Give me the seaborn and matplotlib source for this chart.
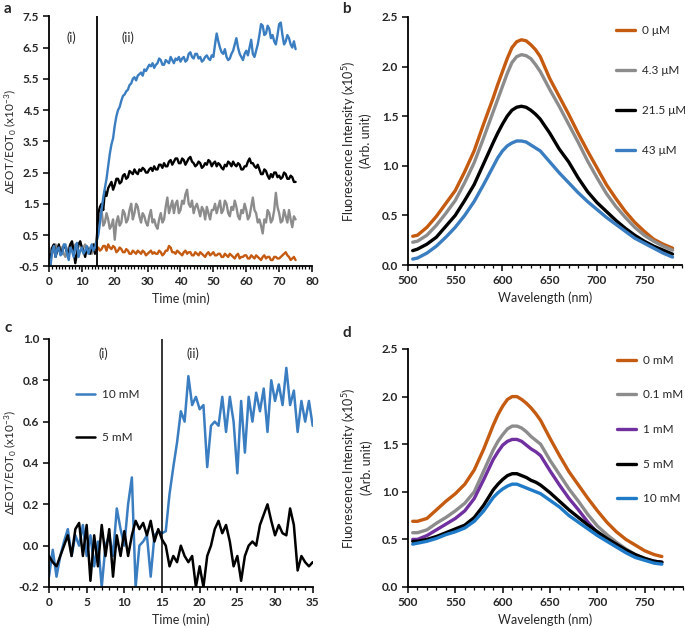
import numpy as np
import pandas as pd
import matplotlib
matplotlib.use("Agg")
import matplotlib.pyplot as plt
from matplotlib.ticker import MultipleLocator
import seaborn as sns

# --- panel a: EOT change over time (x10^-3), sampled every 0.5 min ---
t_a = np.arange(0, 75.01, 0.5)
a_blue = [-0.3, -0.45, 0.0, 0.15, -0.2, 0.05, 0.1, -0.15, -0.1, 0.2,
          0.2, -0.1, -0.3, 0.1, 0.0, -0.2, 0.1, 0.25, -0.2, 0.0,
          0.1, -0.1, 0.0, 0.15, -0.1, 0.05, 0.2, 0.0, 0.1, 0.3,
          0.5, 0.9, 1.3, 1.7, 2.0, 2.3, 2.7, 3.1, 3.4, 3.6,
          4.0, 4.3, 4.5, 4.6, 4.8, 4.95, 5.0, 5.1, 5.15, 5.3,
          5.35, 5.5, 5.55, 5.45, 5.6, 5.65, 5.7, 5.6, 5.8, 5.75,
          5.85, 5.95, 5.9, 6.0, 5.85, 5.95, 6.0, 6.15, 6.1, 5.95,
          5.95, 6.1, 6.05, 6.0, 6.2, 6.1, 6.0, 6.15, 6.1, 6.2,
          6.05, 6.15, 6.2, 6.05, 6.1, 6.3, 6.35, 6.2, 6.15, 6.3,
          6.3, 6.15, 6.2, 6.05, 6.1, 6.2, 6.25, 6.15, 6.1, 6.25,
          6.2, 6.6, 6.95, 6.7, 6.5, 6.35, 6.3, 6.45, 6.2, 6.1,
          6.15, 6.3, 6.4, 6.6, 6.8, 6.5, 6.3, 6.2, 6.1, 6.3,
          6.4, 6.25, 6.5, 6.75, 6.3, 6.2, 6.4, 6.6, 6.9, 7.25,
          7.2, 6.9, 6.95, 7.2, 7.1, 6.8, 6.9, 6.7, 6.6, 6.9,
          7.25, 7.3, 6.9, 6.6, 6.7, 6.9, 6.8, 6.6, 6.5, 6.7,
          6.45]
a_black = [-0.1, -0.3, 0.1, 0.2, -0.2, 0.0, 0.2, -0.1, 0.0, 0.15,
           0.1, -0.05, -0.1, 0.2, 0.3, 0.0, -0.4, -0.1, 0.2, 0.3,
           0.1, 0.0, -0.2, 0.1, 0.0, -0.1, 0.1, 0.2, -0.1, 0.3,
           1.2, 1.4, 1.5, 1.3, 1.9, 1.75, 2.0, 2.1, 2.2, 1.95,
           2.1, 2.3, 2.3, 2.15, 2.2, 2.4, 2.45, 2.3, 2.35, 2.55,
           2.5, 2.45, 2.6, 2.5, 2.45, 2.6, 2.55, 2.65, 2.6, 2.5,
           2.5, 2.6, 2.65, 2.55, 2.7, 2.6, 2.6, 2.75, 2.75, 2.65,
           2.8, 2.7, 2.7, 2.85, 2.9, 2.75, 2.85, 2.95, 2.95, 2.8,
           2.8, 2.95, 2.9, 2.75, 2.85, 2.95, 3.0, 2.85, 2.8, 2.7,
           2.75, 2.85, 2.8, 2.65, 2.7, 2.8, 2.75, 2.9, 2.85, 2.7,
           2.8, 2.85, 2.7, 2.8, 2.75, 2.65, 2.6, 2.75, 2.7, 2.85,
           2.8, 2.7, 2.85, 2.75, 2.7, 2.8, 2.75, 2.6, 2.6, 2.7,
           2.7, 2.85, 2.95, 2.8, 2.8, 2.7, 2.65, 2.75, 2.6, 2.45,
           2.45, 2.6, 2.55, 2.4, 2.3, 2.45, 2.35, 2.5, 2.5, 2.35,
           2.4, 2.3, 2.35, 2.5, 2.45, 2.3, 2.3, 2.4, 2.35, 2.2,
           2.2]
a_gray = [0.1, 0.0, -0.1, 0.1, 0.2, 0.0, 0.0, 0.1, 0.1, -0.1,
          -0.2, 0.0, 0.1, 0.2, 0.0, -0.1, 0.2, 0.1, -0.1, 0.0,
          0.0, 0.1, 0.2, 0.0, 0.1, 0.0, -0.1, 0.1, 0.2, 0.3,
          0.8, 1.1, 1.3, 0.8, 0.9, 1.2, 1.0, 0.7, 0.8, 1.0,
          0.35, 0.9, 1.1, 0.8, 0.9, 1.3, 1.2, 0.9, 1.0, 1.3,
          1.5, 1.0, 1.2, 1.5, 1.4, 1.1, 0.9, 1.2, 1.1, 0.9,
          0.8, 1.1, 1.3, 0.9, 1.0, 0.8, 0.7, 1.0, 1.2, 0.9,
          1.0, 1.4, 1.7, 1.2, 1.4, 1.6, 1.2, 1.5, 1.6, 1.2,
          1.3, 1.6, 1.5, 1.8, 1.95, 1.5, 1.4, 1.6, 1.2, 1.4,
          1.5, 1.3, 1.1, 1.4, 1.3, 1.0, 1.4, 1.2, 1.0, 1.3,
          1.3, 1.5, 1.2, 1.4, 1.6, 1.2, 1.3, 1.6, 1.5, 1.2,
          1.1, 1.4, 1.3, 1.6, 1.4, 1.1, 1.0, 1.3, 1.2, 1.5,
          1.3, 1.0, 1.1, 1.4, 1.7, 1.3, 1.2, 0.9, 1.0, 0.8,
          0.55, 1.0, 0.9, 1.3, 1.2, 0.9, 1.0, 1.3, 1.85, 1.4,
          1.2, 0.9, 0.95, 1.3, 1.1, 0.9, 1.3, 1.0, 0.75, 1.1,
          1.0]
t_a_orange = np.arange(14.5, 75.01, 0.5)
a_orange = [0.0, 0.1, 0.0, 0.05, 0.15, 0.15, 0.0, 0.2, 0.1, 0.05,
            0.15, 0.1, -0.05, 0.0, 0.1, 0.05, -0.05, -0.05, 0.05, 0.0,
            -0.1, -0.1, 0.0, -0.05, -0.1, 0.0, -0.05, -0.1, 0.0, -0.05,
            -0.15, -0.1, -0.05, 0.0, -0.1, -0.05, -0.1, -0.1, 0.0, -0.05,
            -0.15, -0.1, 0.0, 0.0, 0.15, 0.1, -0.05, -0.05, -0.1, 0.0,
            -0.05, -0.1, -0.15, -0.05, 0.0, -0.1, -0.05, -0.05, -0.15, -0.15,
            -0.05, -0.1, -0.15, -0.05, -0.1, -0.15, -0.2, -0.1, -0.05, -0.15,
            -0.1, -0.05, -0.15, -0.15, -0.1, -0.1, -0.2, -0.2, -0.1, -0.15,
            -0.2, -0.1, -0.15, -0.2, -0.25, -0.15, -0.1, -0.25, -0.2, -0.2,
            -0.15, -0.15, -0.25, -0.25, -0.15, -0.2, -0.25, -0.15, -0.2, -0.25,
            -0.3, -0.2, -0.15, -0.25, -0.2, -0.2, -0.3, -0.3, -0.2, -0.2,
            -0.25, -0.25, -0.2, -0.15, -0.1, -0.05, -0.15, -0.2, -0.3, -0.25,
            -0.2, -0.3]

# --- panel b: emission spectra (x10^5) ---
wl_b = [505, 510, 520, 530, 540, 550, 560, 570, 580, 590, 595, 600, 605, 610, 615, 620, 625, 630, 635, 640,
        650, 660, 670, 680, 690, 700, 710, 720, 730, 740, 750, 760, 770, 780]
b_0uM = [0.29, 0.30, 0.38, 0.49, 0.62, 0.75, 0.94, 1.15, 1.42, 1.68, 1.82, 1.95, 2.08, 2.19, 2.25, 2.27,
         2.26, 2.22, 2.17, 2.10, 1.88, 1.70, 1.52, 1.33, 1.15, 0.98, 0.81, 0.67, 0.54, 0.43, 0.34, 0.26, 0.21, 0.17]
b_4uM = [0.23, 0.24, 0.30, 0.40, 0.52, 0.65, 0.83, 1.03, 1.28, 1.54, 1.67, 1.80, 1.93, 2.04, 2.10, 2.12,
         2.11, 2.08, 2.02, 1.95, 1.77, 1.60, 1.42, 1.24, 1.05, 0.88, 0.72, 0.59, 0.48, 0.38, 0.30, 0.24, 0.19, 0.15]
b_21uM = [0.145, 0.16, 0.21, 0.28, 0.39, 0.50, 0.65, 0.81, 1.02, 1.23, 1.33, 1.42, 1.50, 1.56, 1.59, 1.60,
          1.59, 1.56, 1.52, 1.47, 1.33, 1.17, 1.04, 0.88, 0.74, 0.63, 0.54, 0.45, 0.37, 0.30, 0.24, 0.19, 0.15, 0.11]
b_43uM = [0.06, 0.07, 0.12, 0.19, 0.28, 0.38, 0.50, 0.64, 0.81, 0.99, 1.08, 1.15, 1.20, 1.23, 1.25, 1.25,
          1.24, 1.21, 1.18, 1.15, 1.04, 0.93, 0.83, 0.73, 0.64, 0.56, 0.48, 0.41, 0.34, 0.27, 0.22, 0.17, 0.12, 0.08]
b_labels = ["0 μM", "4.3 μM", "21.5 μM", "43 μM"]

# --- panel c: EOT change over time (x10^-3) ---
t_c = np.arange(0, 35.01, 0.5)
c_10mM = [-0.15, -0.02, -0.15, -0.05, 0.02, 0.08, -0.05, 0.05, 0.0, 0.1, -0.05, 0.05, -0.1, 0.02,
          -0.2, 0.0, 0.05, -0.05, 0.18, 0.08, 0.0, 0.2, 0.33, -0.2, 0.0, 0.02, 0.05, -0.15, 0.05,
          0.07, 0.06, 0.07, 0.25, 0.38, 0.5, 0.65, 0.6, 0.82, 0.68, 0.72, 0.66, 0.68, 0.38, 0.58,
          0.6, 0.58, 0.72, 0.55, 0.72, 0.6, 0.35, 0.7, 0.45, 0.72, 0.6, 0.74, 0.65, 0.76, 0.55,
          0.8, 0.7, 0.78, 0.68, 0.86, 0.68, 0.75, 0.55, 0.7, 0.6, 0.7, 0.58]
c_5mM = [-0.05, -0.08, -0.1, -0.05, 0.0, 0.05, -0.05, 0.08, 0.11, -0.05, 0.1, -0.17, 0.05, -0.1,
         0.1, -0.05, 0.08, -0.15, 0.05, -0.05, 0.07, -0.05, 0.05, 0.12, 0.08, 0.11, 0.05, 0.12,
         0.02, 0.08, 0.03, 0.0, -0.1, -0.05, -0.08, 0.0, -0.05, -0.08, -0.05, -0.2, -0.1, -0.2,
         -0.05, 0.0, 0.08, 0.12, 0.06, 0.1, 0.02, -0.1, -0.05, -0.17, -0.05, 0.0, 0.02, 0.0, 0.1,
         0.15, 0.2, 0.12, 0.05, 0.1, 0.06, 0.05, 0.18, 0.1, -0.12, -0.05, -0.08, -0.1, -0.08]

# --- panel d: emission spectra (x10^5) ---
wl_d = [505, 510, 520, 530, 540, 550, 560, 570, 580, 590, 595, 600, 605, 610, 615, 620, 625, 630, 635, 640,
        650, 660, 670, 680, 690, 700, 710, 720, 730, 740, 750, 760, 768]
d_0mM = [0.69, 0.69, 0.72, 0.81, 0.90, 0.98, 1.08, 1.23, 1.45, 1.70, 1.81, 1.90, 1.97, 2.00, 2.00, 1.97,
         1.93, 1.88, 1.82, 1.75, 1.56, 1.38, 1.21, 1.07, 0.93, 0.80, 0.68, 0.58, 0.50, 0.44, 0.38, 0.34, 0.32]
d_01mM = [0.57, 0.57, 0.60, 0.67, 0.73, 0.80, 0.88, 1.00, 1.22, 1.44, 1.53, 1.60, 1.66, 1.69, 1.69, 1.67,
          1.63, 1.58, 1.54, 1.50, 1.33, 1.18, 1.03, 0.90, 0.76, 0.64, 0.55, 0.47, 0.40, 0.34, 0.30, 0.27, 0.26]
d_1mM = [0.50, 0.50, 0.54, 0.60, 0.66, 0.72, 0.80, 0.93, 1.13, 1.34, 1.42, 1.49, 1.53, 1.55, 1.55, 1.53,
         1.49, 1.45, 1.42, 1.38, 1.22, 1.07, 0.93, 0.81, 0.68, 0.57, 0.50, 0.43, 0.37, 0.32, 0.29, 0.27, 0.26]
d_5mM = [0.48, 0.48, 0.50, 0.53, 0.57, 0.61, 0.65, 0.73, 0.86, 1.02, 1.08, 1.13, 1.17, 1.19, 1.19, 1.17,
         1.15, 1.12, 1.10, 1.07, 0.99, 0.90, 0.81, 0.73, 0.65, 0.58, 0.51, 0.45, 0.39, 0.34, 0.30, 0.27, 0.26]
d_10mM = [0.45, 0.46, 0.48, 0.51, 0.55, 0.58, 0.62, 0.69, 0.80, 0.94, 0.99, 1.03, 1.06, 1.08, 1.08, 1.06,
          1.04, 1.02, 1.00, 0.98, 0.91, 0.84, 0.75, 0.68, 0.61, 0.54, 0.48, 0.42, 0.36, 0.31, 0.28, 0.25, 0.24]
d_labels = ["0 mM", "0.1 mM", "1 mM", "5 mM", "10 mM"]

ORANGE, GRAY, BLACK, BLUE, PURPLE = "#C55A11", "#8C8C8C", "#000000", "#3A7DC1", "#7030A0"

sns.set_style("ticks")
plt.rcParams["font.family"] = ["Lato", "DejaVu Sans"]
plt.rcParams["mathtext.fontset"] = "custom"
plt.rcParams["mathtext.rm"] = "Lato"
plt.rcParams["mathtext.it"] = "Lato:italic"

fig = plt.figure(figsize=(6.85, 6.28), dpi=100)
ax_a = fig.add_axes([0.0715, 0.576, 0.384, 0.398])
ax_b = fig.add_axes([0.5956, 0.578, 0.400, 0.395])
ax_c = fig.add_axes([0.0715, 0.0653, 0.385, 0.395])
ax_d = fig.add_axes([0.5956, 0.0653, 0.401, 0.379])


def style(ax, xticks, xminor, yticks, xfmt, yfmt, ylab_x):
    sns.despine(ax=ax)
    for s in ("left", "bottom"):
        ax.spines[s].set_color("black")
        ax.spines[s].set_linewidth(1.3)
    ax.set_xticks(xticks, [xfmt.format(v) for v in xticks], fontweight="bold", fontsize=8.5)
    ax.set_yticks(yticks, [yfmt.format(v) for v in yticks], fontweight="bold", fontsize=8.5)
    ax.xaxis.set_minor_locator(MultipleLocator(xminor))
    ax.tick_params(axis="both", which="major", direction="out", length=4, width=1.1,
                   color="black", pad=3)
    ax.tick_params(axis="x", which="minor", direction="out", length=2.5, width=0.9, color="black")
    ax.yaxis.set_label_coords(ylab_x, 0.5)
    ax.grid(False)


leg_kw = dict(loc="upper left", frameon=False, fontsize=8.5, handlelength=1.6,
              handletextpad=0.6, borderpad=0)

# panel a
df_a = pd.concat([
    pd.DataFrame({"t": t_a, "v": a_gray, "s": "gray"}),
    pd.DataFrame({"t": t_a, "v": a_black, "s": "black"}),
    pd.DataFrame({"t": t_a, "v": a_blue, "s": "blue"}),
    pd.DataFrame({"t": t_a_orange, "v": a_orange, "s": "orange"}),
])
sns.lineplot(data=df_a, x="t", y="v", hue="s", estimator=None, sort=False, ax=ax_a,
             palette={"gray": GRAY, "black": BLACK, "blue": BLUE, "orange": ORANGE},
             linewidth=1.7, legend=False)
ax_a.set_xlim(0, 80)
ax_a.set_ylim(-0.5, 7.5)
ax_a.axvline(14.5, color="black", lw=1.3)
ax_a.text(6.7, 6.83, "(i)", ha="center", va="center", fontsize=9)
ax_a.text(24.0, 6.83, "(ii)", ha="center", va="center", fontsize=9)
ax_a.set_xlabel("Time (min)", fontsize=9)
ax_a.set_ylabel("ΔEOT/EOT$_0$ (x10$^{-3}$)", fontsize=8.5)
style(ax_a, np.arange(0, 81, 10), 1, np.arange(-0.5, 7.6, 1.0), "{:.0f}", "{:.1f}", -0.118)

# panel b
df_b = pd.concat([pd.DataFrame({"w": wl_b, "v": vals, "s": lab})
                  for vals, lab in zip([b_0uM, b_4uM, b_21uM, b_43uM], b_labels)])
sns.lineplot(data=df_b, x="w", y="v", hue="s", hue_order=b_labels, estimator=None, ax=ax_b,
             palette=dict(zip(b_labels, [ORANGE, GRAY, BLACK, BLUE])), linewidth=2.4)
ax_b.set_xlim(500, 790)
ax_b.set_ylim(0, 2.5)
ax_b.set_xlabel("Wavelength (nm)", fontsize=9)
ax_b.set_ylabel("Fluorescence Intensity (x10$^{5}$)\n(Arb. unit)", fontsize=9)
ax_b.legend(bbox_to_anchor=(0.737, 0.99), labelspacing=2.45, **leg_kw)
style(ax_b, np.arange(500, 751, 50), 10, np.arange(0, 2.51, 0.5), "{:.0f}", "{:.1f}", -0.13)

# panel c
c_labels = ["10 mM", "5 mM"]
df_c = pd.concat([pd.DataFrame({"t": t_c, "v": c_10mM, "s": "10 mM"}),
                  pd.DataFrame({"t": t_c, "v": c_5mM, "s": "5 mM"})])
sns.lineplot(data=df_c, x="t", y="v", hue="s", hue_order=c_labels, estimator=None, ax=ax_c,
             palette={"10 mM": BLUE, "5 mM": BLACK}, linewidth=1.8)
ax_c.set_xlim(0, 35)
ax_c.set_ylim(-0.2, 1.0)
ax_c.axvline(15, color="black", lw=1.1)
ax_c.text(7.16, 0.93, "(i)", ha="center", va="center", fontsize=9)
ax_c.text(19.1, 0.93, "(ii)", ha="center", va="center", fontsize=9)
ax_c.set_xlabel("Time (min)", fontsize=9)
ax_c.set_ylabel("ΔEOT/EOT$_0$ (x10$^{-3}$)", fontsize=8.5)
ax_c.legend(bbox_to_anchor=(0.08, 0.82), labelspacing=2.7, **leg_kw)
style(ax_c, np.arange(0, 36, 5), 1, np.arange(-0.2, 1.01, 0.2), "{:.0f}", "{:.1f}", -0.118)

# panel d
df_d = pd.concat([pd.DataFrame({"w": wl_d, "v": vals, "s": lab})
                  for vals, lab in zip([d_0mM, d_01mM, d_1mM, d_5mM, d_10mM], d_labels)])
sns.lineplot(data=df_d, x="w", y="v", hue="s", hue_order=d_labels, estimator=None, ax=ax_d,
             palette=dict(zip(d_labels, [ORANGE, GRAY, PURPLE, BLACK, "#1F7AC8"])), linewidth=2.4)
ax_d.set_xlim(500, 790)
ax_d.set_ylim(0, 2.5)
ax_d.set_xlabel("Wavelength (nm)", fontsize=9)
ax_d.set_ylabel("Fluorescence Intensity (x10$^{5}$)\n(Arb. unit)", fontsize=9)
ax_d.legend(bbox_to_anchor=(0.741, 1.0), labelspacing=2.0, **leg_kw)
style(ax_d, np.arange(500, 751, 50), 10, np.arange(0, 2.51, 0.5), "{:.0f}", "{:.1f}", -0.127)

for x, y, s in [(0.006, 0.985, "a"), (0.500, 0.985, "b"), (0.006, 0.478, "c"), (0.500, 0.470, "d")]:
    fig.text(x, y, s, fontsize=11, fontweight="bold", ha="left", va="center")

fig.savefig("out.png", dpi=100)
